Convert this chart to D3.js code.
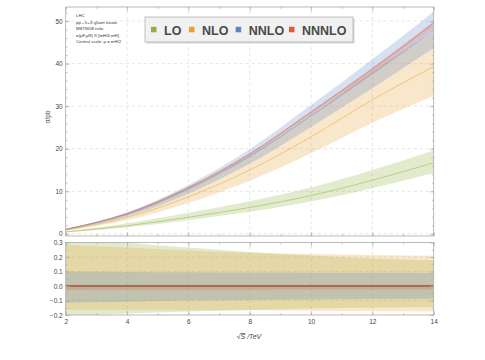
<!DOCTYPE html>
<html>
<head>
<meta charset="utf-8">
<script src="https://cdn.jsdelivr.net/npm/d3@7"></script>
<style>
  body { margin: 0; background: #fff; }
  text { font-family: "Liberation Sans", Arial, sans-serif; }
</style>
</head>
<body>
<svg id="chart" width="485" height="360"></svg>
<script>
// values
const energies = [2, 4, 6, 8, 10, 12, 14];
const orders = ["LO", "NLO", "NNLO", "NNNLO"];
const colors = ["#8fb040", "#e8a030", "#5b84c4", "#e0583c"];

// central cross sections (pb), mu = mH/2
const centralLO = [0.45, 1.9, 3.9, 6.2, 9.0, 12.6, 16.7];
const centralNLO = [0.9, 3.85, 8.7, 15.0, 22.8, 31.5, 39.3];
const centralNNLO = [1.05, 4.6, 10.5, 18.2, 27.7, 37.6, 47.9];
const centralNNNLO = [1.1, 4.8, 10.9, 18.8, 28.6, 38.7, 49.5];

// relative scale variation (lower panel)
const upLO = [0.34, 0.30, 0.265, 0.235, 0.21, 0.19, 0.178];
const downLO = [-0.21, -0.19, -0.175, -0.165, -0.155, -0.15, -0.145];
const upNLO = [0.285, 0.265, 0.245, 0.23, 0.22, 0.213, 0.208];
const downNLO = [-0.165, -0.166, -0.167, -0.168, -0.17, -0.172, -0.175];
const upNNLO = [0.10, 0.097, 0.095, 0.093, 0.092, 0.091, 0.09];
const downNNLO = [-0.115, -0.108, -0.1, -0.096, -0.093, -0.09, -0.088];
const upNNNLO = [0.008, 0.008, 0.008, 0.008, 0.008, 0.008, 0.008];
const downNNNLO = [-0.027, -0.026, -0.025, -0.025, -0.024, -0.024, -0.024];

const xTicks = [2, 4, 6, 8, 10, 12, 14];
const yTicksTop = [0, 10, 20, 30, 40, 50];
const yTicksBottom = [-0.2, -0.1, 0, 0.1, 0.2, 0.3];

const notes = ["LHC", "pp\u2192h+X gluon fusion", "MSTW08 nnlo",
  "\u03c3(\u03bcF,\u03bcR) \u2208 [mH/4,mH]", "Central scale: \u03bc = mH/2"];

const centrals = [centralLO, centralNLO, centralNNLO, centralNNNLO];
const ups = [upLO, upNLO, upNNLO, upNNNLO];
const downs = [downLO, downNLO, downNNLO, downNNNLO];

const series = orders.map((name, k) => ({
  name: name,
  color: colors[k],
  points: energies.map((e, i) => ({
    x: e,
    c: centrals[k][i],
    up: ups[k][i],
    down: downs[k][i]
  }))
}));

const svg = d3.select("#chart");
const left = 65.7, right = 433.7;

const x = d3.scaleLinear().domain([2, 14]).range([left, right]);
const yTop = d3.scaleLinear().domain([-0.5, 53.3]).range([236, 7]);
const yBot = d3.scaleLinear().domain([-0.2, 0.3]).range([315, 242.5]);

const frameColor = "#a8a8a8";
const gridColor = "#d4d4d4";

// clip paths
const defs = svg.append("defs");
defs.append("clipPath").attr("id", "clipTop").append("rect")
    .attr("x", left).attr("y", yTop.range()[1])
    .attr("width", right - left).attr("height", yTop.range()[0] - yTop.range()[1]);
defs.append("clipPath").attr("id", "clipBot").append("rect")
    .attr("x", left).attr("y", yBot.range()[1])
    .attr("width", right - left).attr("height", yBot.range()[0] - yBot.range()[1]);

function grid(y, yTicks) {
  const g = svg.append("g");
  g.selectAll(".vx").data(xTicks.slice(1, -1)).enter().append("line")
      .attr("x1", d => x(d)).attr("x2", d => x(d))
      .attr("y1", y.range()[0]).attr("y2", y.range()[1])
      .attr("stroke", gridColor).attr("stroke-width", 0.6)
      .attr("stroke-dasharray", "3,3");
  g.selectAll(".hy").data(yTicks.filter(t => y(t) > y.range()[1] + 1 && y(t) < y.range()[0] - 1))
      .enter().append("line")
      .attr("x1", left).attr("x2", right)
      .attr("y1", d => y(d)).attr("y2", d => y(d))
      .attr("stroke", gridColor).attr("stroke-width", 0.6)
      .attr("stroke-dasharray", "3,3");
}

grid(yTop, yTicksTop);
grid(yBot, yTicksBottom);

// upper panel: absolute cross sections
const topPanel = svg.append("g").attr("clip-path", "url(#clipTop)");
const areaTop = d3.area()
    .x(d => x(d.x))
    .y0(d => yTop(d.c * (1 + d.down)))
    .y1(d => yTop(d.c * (1 + d.up)))
    .curve(d3.curveMonotoneX);
const lineTop = d3.line()
    .x(d => x(d.x)).y(d => yTop(d.c))
    .curve(d3.curveMonotoneX);

topPanel.selectAll(".band").data(series).enter().append("path")
    .attr("d", d => areaTop(d.points))
    .attr("fill", d => d.color).attr("fill-opacity", 0.25);
topPanel.selectAll(".cl").data(series).enter().append("path")
    .attr("d", d => lineTop(d.points))
    .attr("fill", "none").attr("stroke", d => d.color)
    .attr("stroke-width", 0.7).attr("stroke-opacity", 0.7);

// lower panel: relative scale variation
const botPanel = svg.append("g").attr("clip-path", "url(#clipBot)");
const areaBot = d3.area()
    .x(d => x(d.x))
    .y0(d => yBot(d.down))
    .y1(d => yBot(d.up))
    .curve(d3.curveMonotoneX);

botPanel.selectAll(".band").data(series).enter().append("path")
    .attr("d", d => areaBot(d.points))
    .attr("fill", d => d.color).attr("fill-opacity", 0.25);
botPanel.selectAll(".cl").data(series).enter().append("line")
    .attr("x1", left).attr("x2", right)
    .attr("y1", yBot(0)).attr("y2", yBot(0))
    .attr("stroke", (d, i) => i === 3 ? "#a9432a" : d.color)
    .attr("stroke-width", (d, i) => i === 3 ? 1.2 : 0.7);

// frames with inward ticks on all sides
function frame(y, yTicks, yMinorStep, xLabels, yFmt) {
  const [y0, y1] = y.range();
  const g = svg.append("g");
  g.append("rect")
      .attr("x", left).attr("y", y1)
      .attr("width", right - left).attr("height", y0 - y1)
      .attr("fill", "none").attr("stroke", frameColor).attr("stroke-width", 0.8);

  const xMinor = d3.range(2, 14.01, 1);
  const yMinor = d3.range(Math.ceil(y.domain()[0] / yMinorStep), Math.floor(y.domain()[1] / yMinorStep) + 1)
      .map(k => k * yMinorStep);

  const styleAxis = sel => {
    sel.select(".domain").remove();
    sel.selectAll(".tick line").attr("stroke", frameColor).attr("stroke-width", 0.6);
    sel.selectAll("text").attr("fill", "#444").attr("font-size", 6.5);
  };

  // bottom
  g.append("g").attr("transform", `translate(0,${y0})`)
      .call(d3.axisBottom(x).tickValues(xMinor).tickSize(-2).tickFormat(""))
      .call(styleAxis);
  g.append("g").attr("transform", `translate(0,${y0})`)
      .call(d3.axisBottom(x).tickValues(xTicks).tickSize(-4).tickPadding(4)
          .tickFormat(xLabels ? d3.format("d") : ""))
      .call(styleAxis);
  // top
  g.append("g").attr("transform", `translate(0,${y1})`)
      .call(d3.axisTop(x).tickValues(xMinor).tickSize(-2).tickFormat(""))
      .call(styleAxis);
  g.append("g").attr("transform", `translate(0,${y1})`)
      .call(d3.axisTop(x).tickValues(xTicks).tickSize(-4).tickFormat(""))
      .call(styleAxis);
  // left
  g.append("g").attr("transform", `translate(${left},0)`)
      .call(d3.axisLeft(y).tickValues(yMinor).tickSize(-2).tickFormat(""))
      .call(styleAxis);
  g.append("g").attr("transform", `translate(${left},0)`)
      .call(d3.axisLeft(y).tickValues(yTicks).tickSize(-4).tickPadding(3).tickFormat(yFmt))
      .call(styleAxis);
  // right
  g.append("g").attr("transform", `translate(${right},0)`)
      .call(d3.axisRight(y).tickValues(yMinor).tickSize(-2).tickFormat(""))
      .call(styleAxis);
  g.append("g").attr("transform", `translate(${right},0)`)
      .call(d3.axisRight(y).tickValues(yTicks).tickSize(-4).tickFormat(""))
      .call(styleAxis);
}

frame(yTop, yTicksTop, 2, false, d3.format("d"));
frame(yBot, yTicksBottom, 0.05, true, d => d3.format(".1f")(d).replace("-", "\u2212"));

// axis titles
svg.append("text")
    .attr("transform", "translate(50,117) rotate(-90)")
    .attr("text-anchor", "middle")
    .attr("font-size", 6.5).attr("fill", "#444")
    .text("\u03c3/pb");

const xt = svg.append("text")
    .attr("x", 249).attr("y", 339)
    .attr("text-anchor", "middle")
    .attr("font-size", 7).attr("fill", "#444");
xt.append("tspan").text("\u221a");
xt.append("tspan").attr("font-style", "italic")
    .attr("text-decoration", "overline").text("S");
xt.append("tspan").attr("font-style", "italic").text(" /TeV");

// notes in the corner
svg.append("g").selectAll("text").data(notes).enter().append("text")
    .attr("x", 76).attr("y", (d, i) => 17 + i * 6.6)
    .attr("font-family", "DejaVu Sans, sans-serif")
    .attr("font-size", 4.3).attr("fill", "#333")
    .text(d => d);

// legend
const leg = svg.append("g");
leg.append("rect")
    .attr("x", 146.5).attr("y", 18.5).attr("width", 208).attr("height", 25)
    .attr("fill", "#d8d8d8");
leg.append("rect")
    .attr("x", 145).attr("y", 17).attr("width", 208).attr("height", 25)
    .attr("fill", "#f1f1f1").attr("stroke", "#b5b5b5").attr("stroke-width", 0.8);

const legX = [151, 189, 235.7, 289];
const items = leg.selectAll(".item").data(series).enter().append("g")
    .attr("transform", (d, i) => `translate(${legX[i]},0)`);
items.append("rect")
    .attr("x", 0).attr("y", 26.8).attr("width", 5.5).attr("height", 5.5)
    .attr("fill", d => d.color);
items.append("text")
    .attr("x", 13).attr("y", 34.5)
    .attr("font-size", 12.5).attr("font-weight", "bold").attr("fill", "#4a4a4a")
    .text(d => d.name);
</script>
</body>
</html>
